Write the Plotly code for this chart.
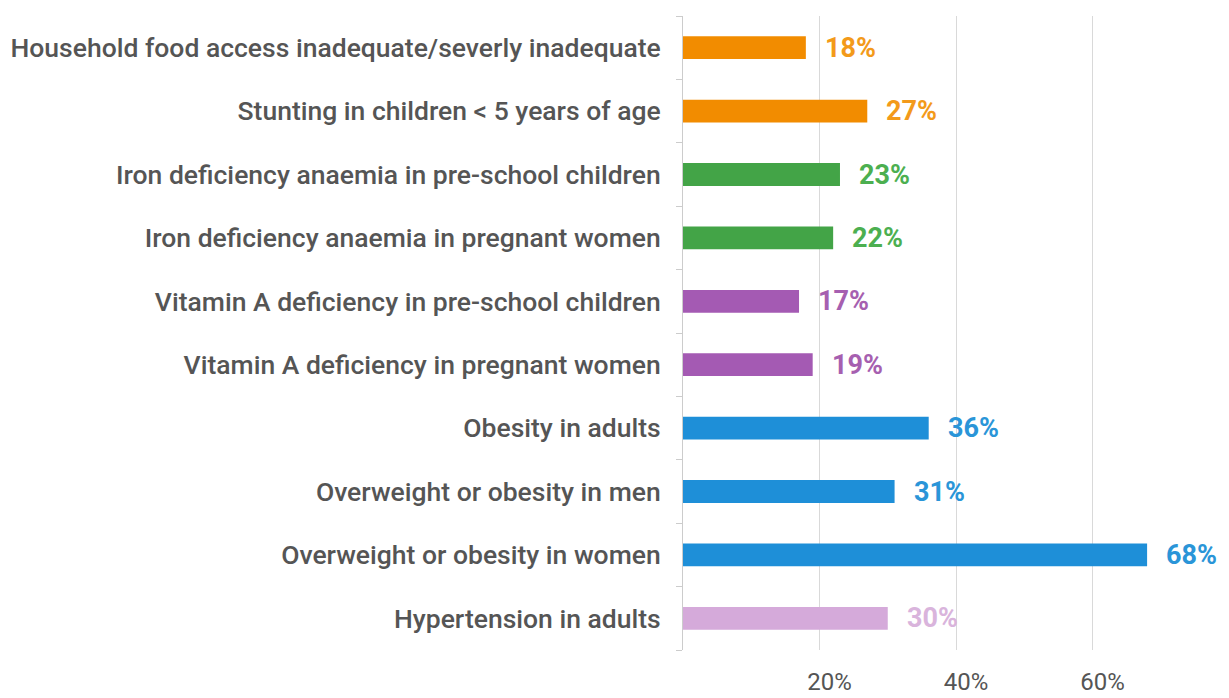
import plotly.graph_objects as go

categories = [
    "Household food access inadequate/severly inadequate",
    "Stunting in children < 5 years of age",
    "Iron deficiency anaemia in pre-school children",
    "Iron deficiency anaemia in pregnant women",
    "Vitamin A deficiency in pre-school children",
    "Vitamin A deficiency in pregnant women",
    "Obesity in adults",
    "Overweight or obesity in men",
    "Overweight or obesity in women",
    "Hypertension in adults",
]
values = [18, 27, 23, 22, 17, 19, 36, 31, 68, 30]
bar_colors = ["#F28C00", "#F28C00", "#43A447", "#43A447", "#A45AB3", "#A45AB3",
              "#1E8FD8", "#1E8FD8", "#1E8FD8", "#D5AADA"]
label_colors = ["#F39A1A", "#F39A1A", "#4CAF50", "#4CAF50", "#A65FB0", "#A65FB0",
                "#2A95D8", "#2A95D8", "#2A95D8", "#D9B4DC"]
tick_vals = [20, 40, 60]
tick_text = ["20%", "40%", "60%"]

FONT = "Roboto, sans-serif"

fig = go.Figure()
fig.add_trace(go.Bar(
    x=values, y=categories, orientation="h",
    marker=dict(color=bar_colors, line=dict(width=0)),
    width=0.36, hoverinfo="skip",
))

for v, c, col in zip(values, categories, label_colors):
    fig.add_annotation(x=v, y=c, text=f"<b>{v}%</b>", showarrow=False,
                       xanchor="left", xshift=17,
                       font=dict(family=FONT, size=27, color=col))

fig.update_layout(
    width=1229, height=698,
    margin=dict(l=683, r=0, t=16, b=48),
    plot_bgcolor="white", paper_bgcolor="white",
    showlegend=False,
    font=dict(family=FONT, color="#555555"),
    xaxis=dict(range=[0, 80], tickvals=tick_vals, ticktext=tick_text,
               showgrid=True, gridcolor="#D9D9D9", gridwidth=1,
               zeroline=False, showline=False,
               tickfont=dict(family=FONT, size=24, color="#555555"),
               ticklabelstandoff=15, ticklabelshift=10, automargin=False),
    yaxis=dict(categoryorder="array", categoryarray=categories[::-1],
               showline=True, linecolor="#CCCCCC", linewidth=1,
               ticks="outside", tickson="boundaries", ticklen=6, tickcolor="#CCCCCC",
               tickfont=dict(family=FONT, size=26.5, color="#555555", weight=500),
               ticklabelstandoff=16, automargin=False, showgrid=False),
)

fig.write_html("out.html")
